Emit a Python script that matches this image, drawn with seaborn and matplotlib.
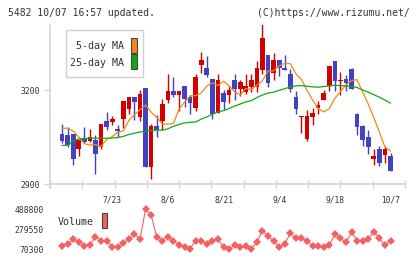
import numpy as np
import pandas as pd
import matplotlib
matplotlib.use("Agg")
import matplotlib.pyplot as plt
from matplotlib.patches import Rectangle
import seaborn as sns

# ---------------- data ----------------
opens = [3058, 3060, 3055, 3060, 3013, 3047, 3037, 3040, 3017, 3101,
         3098, 3075, 3108, 3140, 3178, 3114, 3206, 2955, 3085, 3101,
         3168, 3197, 3185, 3213, 3177, 3144, 3281, 3270, 3235, 3128,
         3190, 3184, 3232, 3203, 3194, 3210, 3210, 3264, 3312, 3254,
         3296, 3270, 3251, 3178, 3115, 3044, 3114, 3142, 3168, 3213,
         3293, 3230, 3235, 3267, 3124, 3085, 3050, 2980, 3011, 2992, 2989]
highs = [3060, 3091, 3081, 3060, 3040, 3082, 3076, 3056, 3093, 3129,
         3118, 3087, 3166, 3178, 3178, 3200, 3206, 3091, 3119, 3171,
         3251, 3242, 3197, 3213, 3184, 3251, 3321, 3309, 3235, 3251,
         3200, 3213, 3251, 3232, 3251, 3251, 3292, 3420, 3312, 3318,
         3296, 3312, 3267, 3197, 3117, 3136, 3143, 3165, 3200, 3277,
         3293, 3257, 3248, 3270, 3127, 3088, 3072, 3011, 3021, 3021, 2999]
lows = [3058, 3030, 3019, 2961, 2990, 3030, 3034, 2933, 3013, 3072,
        3088, 3051, 3078, 3125, 3105, 3101, 2955, 2915, 3050, 3072,
        3160, 3179, 3134, 3146, 3124, 3134, 3255, 3241, 3109, 3128,
        3136, 3160, 3168, 3181, 3187, 3194, 3194, 3251, 3210, 3232,
        3245, 3264, 3194, 3123, 3063, 3037, 3088, 3123, 3168, 3197,
        3197, 3184, 3197, 3203, 3056, 3021, 2996, 2961, 2958, 2967, 2941]
closes = [3060, 3038, 3024, 2981, 3040, 3034, 3050, 2996, 3092, 3083,
          3107, 3069, 3165, 3178, 3163, 3187, 2955, 3084, 3072, 3156,
          3197, 3185, 3197, 3170, 3160, 3242, 3296, 3249, 3124, 3232,
          3163, 3200, 3203, 3226, 3213, 3232, 3270, 3366, 3222, 3296,
          3270, 3264, 3203, 3139, 3117, 3117, 3127, 3152, 3190, 3277,
          3229, 3232, 3222, 3203, 3082, 3040, 3018, 2989, 2967, 3011, 2941]

# moving averages and volume are drawn from the 2nd candle on
ma5 = [3078, 3078, 3069, 3050, 3029, 3024, 3026, 3020, 3042, 3051,
       3066, 3069, 3103, 3121, 3137, 3152, 3129, 3113, 3092, 3091,
       3093, 3139, 3161, 3181, 3182, 3191, 3213, 3223, 3214, 3228,
       3213, 3194, 3184, 3205, 3201, 3215, 3229, 3261, 3261, 3277,
       3285, 3284, 3251, 3234, 3199, 3168, 3141, 3130, 3141, 3173,
       3195, 3216, 3230, 3233, 3193, 3155, 3112, 3065, 3018, 3005]
ma25 = [3023, 3024, 3037, 3044, 3045, 3046, 3046, 3046, 3046, 3047,
        3048, 3052, 3058, 3062, 3066, 3069, 3071, 3072, 3072, 3076,
        3084, 3090, 3095, 3097, 3098, 3107, 3114, 3123, 3130, 3134,
        3141, 3149, 3155, 3162, 3166, 3176, 3184, 3190, 3193, 3199,
        3204, 3210, 3213, 3214, 3212, 3210, 3209, 3211, 3213, 3215,
        3214, 3213, 3211, 3208, 3200, 3193, 3185, 3177, 3168, 3158]
volume = [101000, 126000, 175000, 144000, 101000, 112000, 203000, 161000, 158000, 91000,
          91000, 140000, 175000, 231000, 175000, 488800, 430000, 196000, 161000, 203000,
          161000, 112000, 91000, 77000, 161000, 161000, 126000, 161000, 175000, 91000,
          70300, 112000, 91000, 101000, 77000, 144000, 266000, 210000, 158000, 91000,
          126000, 238000, 185000, 185000, 161000, 101000, 101000, 91000, 112000, 231000,
          185000, 144000, 248000, 161000, 161000, 175000, 255000, 185000, 112000, 161000]

date_labels = ["7/23", "8/6", "8/21", "9/4", "9/18", "10/7"]
date_label_idx = [10, 20, 30, 40, 50, 60]
y_ticks = [2900, 3200]
vol_ticks = [70300, 279550, 488800]
header_left = "5482 10/07 16:57 updated."
header_right = "(C)https://www.rizumu.net/"

# ---------------- style ----------------
sns.set_style("white")
plt.rcParams["font.family"] = ["DejaVu Sans Mono", "DejaVu Sans"]

RED = "#d40000"
BLUE = "#4242c2"
ORANGE = "#f08a10"
GREEN = "#12a812"
VOLC = "#f26262"
AXC = "#d4d4d4"
TXT = "#333333"

W, H = 420, 259
fig = plt.figure(figsize=(W / 100, H / 100), dpi=100)
fig.patch.set_facecolor("white")

def fx(px):
    return px / W

def fy(py):
    return 1 - py / H

# pixel -> candle index helpers (layout)
x0_px, step_px = 56.5, 5.567
def idx_at(px):
    return (px - x0_px) / step_px

xlim = (idx_at(50), idx_at(405))

ax = fig.add_axes([fx(50), fy(184), fx(405) - fx(50), fy(25) - fy(184)])
axv = fig.add_axes([fx(50), fy(253), fx(405) - fx(50), fy(205) - fy(253)])

n = len(opens)
idx = np.arange(n)
df = pd.DataFrame({"i": idx, "open": opens, "high": highs, "low": lows, "close": closes})
df["up"] = df["close"] >= df["open"]
df["color"] = np.where(df["up"], RED, BLUE)
df["bottom"] = df[["open", "close"]].min(axis=1)
df["height"] = (df["close"] - df["open"]).abs().clip(lower=2.2)

# wicks
ax.vlines(df["i"], df["low"], df["high"], colors=df["color"], linewidth=1.0)
# bodies
ax.bar(df["i"], df["height"], bottom=df["bottom"], width=0.84,
       color=df["color"], linewidth=0, zorder=3)

ma_idx = idx[1:]
sns.lineplot(x=ma_idx, y=ma5, ax=ax, color=ORANGE, linewidth=0.9, zorder=4)
sns.lineplot(x=ma_idx, y=ma25, ax=ax, color=GREEN, linewidth=0.9, zorder=4)

ax.set_xlim(*xlim)
ax.set_ylim(2900, 3200 + (90 - 25) * 300 / 94)
ax.set_yticks(y_ticks)
ax.set_yticklabels([str(v) for v in y_ticks])
ax.set_xticks(date_label_idx)
ax.set_xticklabels(date_labels)
ax.set_xticks(np.linspace(xlim[0], xlim[1], 12), minor=True)
ax.tick_params(axis="x", which="major", length=0, pad=8.5, labelsize=5.7, labelcolor=TXT)
ax.tick_params(axis="x", which="minor", direction="inout", length=6, width=1.0, color=AXC,
               bottom=True)
ax.tick_params(axis="y", which="major", direction="out", length=4.5, width=1.0, color=AXC,
               pad=3.0, labelsize=5.8, labelcolor=TXT, left=True)
for s in ["top", "right"]:
    ax.spines[s].set_visible(False)
for s in ["left", "bottom"]:
    ax.spines[s].set_color(AXC)
    ax.spines[s].set_linewidth(1.2)
ax.spines["left"].set_bounds(2900 - 4 * 300 / 94, ax.get_ylim()[1])
ax.grid(False)
ax.set_xlabel("")
ax.set_ylabel("")

# overlay axes in pixel coordinates for legends and header
ax_leg = fig.add_axes([0, 0, 1, 1], facecolor="none")
ax_leg.set_xlim(0, W)
ax_leg.set_ylim(H, 0)
ax_leg.axis("off")
ax_leg.add_patch(Rectangle((65.7, 30), 77.6, 47.3, facecolor="white", edgecolor="#cfcfcf",
                           linewidth=1.0, zorder=5))
ax_leg.text(124.5, 46, "5-day MA", ha="right", va="center", fontsize=7.2, color=TXT, zorder=6)
ax_leg.text(124.5, 62.7, "25-day MA", ha="right", va="center", fontsize=7.2, color=TXT, zorder=6)
ax_leg.add_patch(Rectangle((131, 37.5), 6.2, 15.8, facecolor=ORANGE, edgecolor="#444444",
                           linewidth=0.8, zorder=6))
ax_leg.add_patch(Rectangle((131, 54), 6.2, 15.3, facecolor=GREEN, edgecolor="#444444",
                           linewidth=0.8, zorder=6))
# header texts
ax_leg.text(8, 13, header_left, ha="left", va="center", fontsize=7.0, color=TXT)
ax_leg.text(410, 13, header_right, ha="right", va="center", fontsize=7.0, color=TXT)

# volume legend
ax_leg.text(58, 222, "Volume", ha="left", va="center", fontsize=7.2, color=TXT, zorder=6)
ax_leg.add_patch(Rectangle((101.7, 212.8), 5.6, 15.5, facecolor=VOLC, edgecolor="#444444",
                           linewidth=0.8, zorder=6))

# volume panel
sns.lineplot(x=ma_idx, y=volume, ax=axv, color=VOLC, linewidth=0.8, marker="D",
             markersize=3.6, markeredgewidth=0, markerfacecolor=VOLC)
vpp = (488800 - 70300) / 40.0
axv.set_xlim(*xlim)
axv.set_ylim(70300 - 3.7 * vpp, 488800 + 4.3 * vpp)
axv.set_yticks(vol_ticks)
axv.set_yticklabels([str(v) for v in vol_ticks])
axv.set_xticks([])
axv.tick_params(axis="y", length=0, pad=4.5, labelsize=5.8, labelcolor=TXT)
for s in axv.spines.values():
    s.set_visible(False)
axv.set_facecolor("none")
axv.set_xlabel("")
axv.set_ylabel("")

fig.savefig("out.png", dpi=100, facecolor="white")
